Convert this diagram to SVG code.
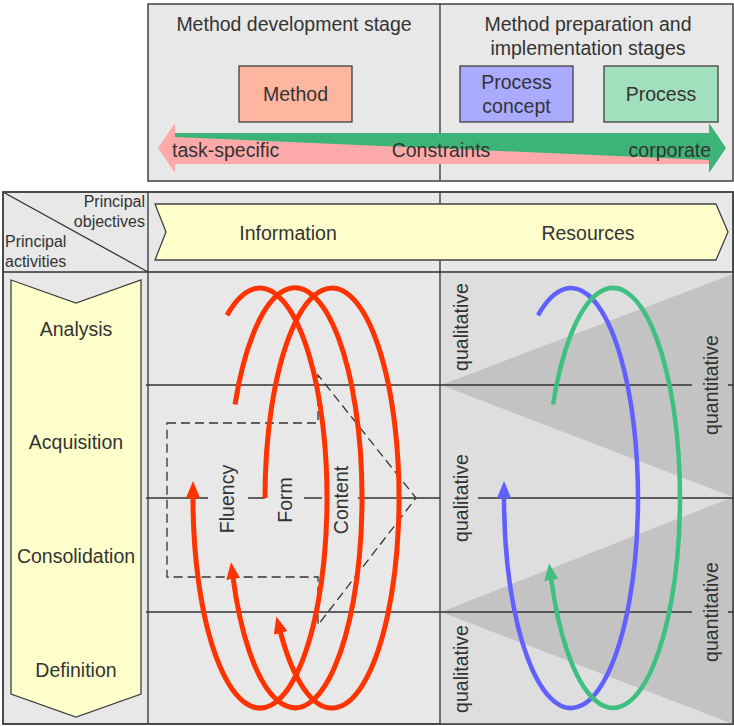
<svg xmlns="http://www.w3.org/2000/svg" width="734" height="726" viewBox="0 0 734 726">
  <style>
    .t { font-family: "Liberation Sans", Arial, sans-serif; fill: #333; }
    .f19 { font-size: 19.5px; }
    .f16 { font-size: 16px; }
    .mid { text-anchor: middle; }
    .end { text-anchor: end; }
    .cell { fill: #e8e8e8; stroke: #404040; stroke-width: 1.5; }
    .rule { stroke: #333; stroke-width: 1.3; fill: none; }
    .box { stroke: #404040; stroke-width: 1.3; }
    .yellow { fill: #ffffcc; stroke: #404040; stroke-width: 1.3; }
    .red { fill: none; stroke: #ff3300; stroke-width: 5; }
    .blue { fill: none; stroke: #6060ff; stroke-width: 4.5; }
    .green { fill: none; stroke: #40c080; stroke-width: 4.5; }
    .dash { fill: none; stroke: #333; stroke-width: 1.3; stroke-dasharray: 9 5; }
  </style>
  <defs>
    <marker id="ah-red" viewBox="0 0 17 14" refX="1" refY="7" markerWidth="17" markerHeight="14" orient="auto" markerUnits="userSpaceOnUse">
      <path d="M0,0 L17,7 L0,14 z" fill="#ff3300"/>
    </marker>
    <marker id="ah-blue" viewBox="0 0 17 14" refX="1" refY="7" markerWidth="17" markerHeight="14" orient="auto" markerUnits="userSpaceOnUse">
      <path d="M0,0 L17,7 L0,14 z" fill="#6060ff"/>
    </marker>
    <marker id="ah-green" viewBox="0 0 17 14" refX="1" refY="7" markerWidth="17" markerHeight="14" orient="auto" markerUnits="userSpaceOnUse">
      <path d="M0,0 L17,7 L0,14 z" fill="#40c080"/>
    </marker>
  </defs>

  <rect width="734" height="726" fill="#fff"/>

  <!-- stage panel -->
  <g id="stages">
    <rect class="cell" x="148" y="4" width="585" height="177"/>
    <line class="rule" x1="440" y1="4" x2="440" y2="181"/>
    <text class="t f19 mid" x="294" y="31">Method development stage</text>
    <text class="t f19 mid" x="588" y="31">Method preparation and</text>
    <text class="t f19 mid" x="588" y="55">implementation stages</text>
  </g>

  <g id="node-method">
    <rect class="box" x="239" y="66" width="113" height="56" fill="#ffb6a0"/>
    <text class="t f19 mid" x="295.5" y="101">Method</text>
  </g>
  <g id="node-process-concept">
    <rect class="box" x="460" y="66" width="113" height="56" fill="#aaaaff"/>
    <text class="t f19 mid" x="516.5" y="89">Process</text>
    <text class="t f19 mid" x="516.5" y="113">concept</text>
  </g>
  <g id="node-process">
    <rect class="box" x="604" y="66" width="114" height="56" fill="#a0e0bc"/>
    <text class="t f19 mid" x="661" y="101">Process</text>
  </g>

  <!-- constraints double arrow -->
  <g id="constraints">
    <polygon points="158,148 175,123 175,133 709,133 709,164 175,164 175,173" fill="#ffaaaa"/>
    <polygon points="175,133 709,133 709,123 726,148 709,173 709,160 175,137" fill="#3cb478"/>
    <text class="t f19" x="172" y="157">task-specific</text>
    <text class="t f19 mid" x="441" y="157">Constraints</text>
    <text class="t f19 end" x="711" y="157">corporate</text>
  </g>

  <!-- matrix -->
  <g id="matrix">
    <rect class="cell" x="3" y="192" width="730" height="532"/>
    <rect x="441" y="273" width="292" height="451" fill="#dedede"/>
    <polygon points="441,385 733,274 733,497" fill="#c3c3c3"/>
    <polygon points="441,612 733,497 733,724" fill="#c3c3c3"/>
    <line class="rule" x1="3" y1="192" x2="148" y2="272"/>
    <line class="rule" x1="148" y1="192" x2="148" y2="724"/>
    <line class="rule" x1="440" y1="192" x2="440" y2="724"/>
    <line class="rule" x1="3" y1="272" x2="733" y2="272"/>
    <rect x="3" y="192" width="730" height="532" fill="none" stroke="#404040" stroke-width="1.5"/>

    <!-- row rules -->
    <path class="rule" d="M146,385 H692 M728,385 H733 M146,612 H692 M728,612 H733 M146,498 H208 M248,498 H265 M304,498 H322 M358,498 H440 M478,498 H733"/>

    <text class="t f16 end" x="145" y="207">Principal</text>
    <text class="t f16 end" x="145" y="227">objectives</text>
    <text class="t f16" x="5" y="247">Principal</text>
    <text class="t f16" x="5" y="267">activities</text>
  </g>

  <g id="objectives">
    <polygon class="yellow" points="155,204 716,204 728,232 716,260 155,260 166,232"/>
    <text class="t f19 mid" x="288" y="240">Information</text>
    <text class="t f19 mid" x="588" y="240">Resources</text>
  </g>

  <g id="activities">
    <polygon class="yellow" points="11,280 76,303 141,280 141,694 76,717 11,694"/>
    <text class="t f19 mid" x="76" y="336">Analysis</text>
    <text class="t f19 mid" x="76" y="449">Acquisition</text>
    <text class="t f19 mid" x="76" y="563">Consolidation</text>
    <text class="t f19 mid" x="76" y="677">Definition</text>
  </g>

  <g id="information-labels">
    <text class="t f19 mid" transform="translate(234,499) rotate(-90)">Fluency</text>
    <text class="t f19 mid" transform="translate(292,500) rotate(-90)">Form</text>
    <text class="t f19 mid" transform="translate(348,500) rotate(-90)">Content</text>
  </g>

  <g id="resource-labels">
    <text class="t f19 mid" transform="translate(468,327) rotate(-90)">qualitative</text>
    <text class="t f19 mid" transform="translate(468,498) rotate(-90)">qualitative</text>
    <text class="t f19 mid" transform="translate(468,669) rotate(-90)">qualitative</text>
    <text class="t f19 mid" transform="translate(718,385) rotate(-90)">quantitative</text>
    <text class="t f19 mid" transform="translate(718,612) rotate(-90)">quantitative</text>
  </g>

  <!-- connectors: dashed block arrow and the iteration loops -->
  <g id="connectors">
    <path class="dash" d="M167,423 L318,423 L318,375 L416,498 L318,625 L318,577 L167,577 Z"/>
    <path class="red" d="M227,315.3 A67,210 0 1 1 193,497" marker-end="url(#ah-red)"/>
    <path class="red" d="M235,404.5 A67,210 0 1 1 233.1,578" marker-end="url(#ah-red)"/>
    <path class="red" d="M265,498 A67,210 0 1 1 280.4,632" marker-end="url(#ah-red)"/>
    <path class="blue" d="M538,315.3 A67,210 0 1 1 504,497" marker-end="url(#ah-blue)"/>
    <path class="green" d="M553,404.5 A67,210 0 1 1 551.2,579" marker-end="url(#ah-green)"/>
  </g>
</svg>
